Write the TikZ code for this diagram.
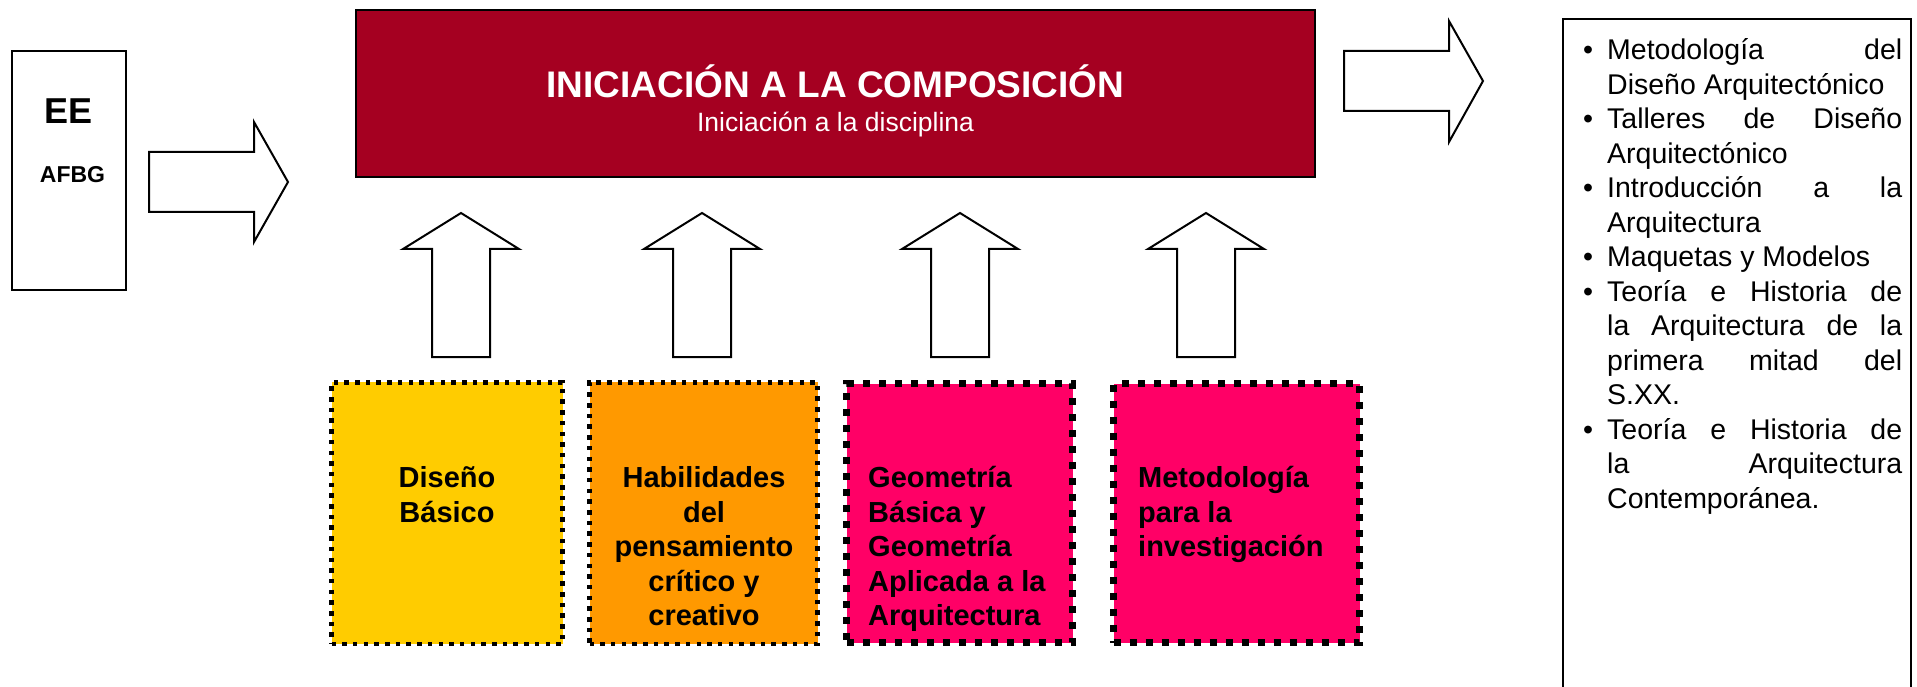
\documentclass[tikz,border=0pt]{standalone}
\usepackage{fontspec}
\setmainfont{Liberation Sans}
\definecolor{vino}{HTML}{A50021}
\definecolor{amarillo}{HTML}{FFCC00}
\definecolor{naranja}{HTML}{FF9900}
\definecolor{rosa}{HTML}{FF0066}
\newcommand{\tam}[2]{\fontsize{#1pt}{#2pt}\selectfont}
\newcommand{\vineta}{\par\noindent\llap{\textbullet\hspace{14pt}}}

\begin{document}
\begin{tikzpicture}[
        x=1pt, y=-1pt,
        caja/.style={draw=black, line width=2pt, inner sep=0pt},
        flecha/.style={draw=black, line width=2pt, fill=white, line join=miter},
        punteada/.style={draw=black, line width=4.5pt, dash pattern=on 4.5pt off 6.2pt,
            inner sep=0pt, minimum height=261.5pt},
        gruesa/.style={draw=black, line width=7pt, dash pattern=on 7pt off 9pt,
            inner sep=0pt, minimum height=259pt},
        rotulo/.style={font=\tam{29}{34.5}\bfseries, inner sep=0pt}
    ]
        \useasboundingbox (0,0) rectangle (1917,687);

        % Caja izquierda
        \node[caja, minimum width=114pt, minimum height=239pt] (izq) at (69,170.5) {};
        \node[anchor=base, inner sep=0pt, font=\tam{36}{40}\bfseries] (ee) at (68.5,124) {EE};
        \node[anchor=base, inner sep=0pt, font=\tam{23}{26}\bfseries] (afbg) at (72.5,183) {AFBG};

        % Caja principal
        \node[caja, fill=vino, minimum width=959pt, minimum height=167pt] (comp) at (835.5,93.5) {};
        \node[anchor=base, inner sep=0pt, text=white, font=\tam{37}{40}\bfseries]
            (titulo) at (835.5,98) {INICIACIÓN A LA COMPOSICIÓN};
        \node[anchor=base, inner sep=0pt, text=white, font=\tam{26.5}{30}]
            (sub) at (835.5,132) {Iniciación a la disciplina};

        % Flechas horizontales
        \draw[flecha] (149,152) -- (254,152) -- (254,122) -- (288,182)
            -- (254,242) -- (254,212) -- (149,212) -- cycle;
        \draw[flecha] (1344,51) -- (1449,51) -- (1449,21) -- (1483,81)
            -- (1449,142) -- (1449,111) -- (1344,111) -- cycle;

        % Flechas verticales
        \foreach \c in {461,702,960,1206}
            \draw[flecha] (\c-29,357) -- (\c-29,249) -- (\c-58,249) -- (\c,213)
                -- (\c+58,249) -- (\c+29,249) -- (\c+29,357) -- cycle;

        % Cajas inferiores
        \node[punteada, fill=amarillo, minimum width=231pt] (diseno) at (447,513) {};
        \node[punteada, fill=naranja, minimum width=228pt] (habil) at (703.5,513) {};
        \node[gruesa, fill=rosa, minimum width=226pt] (geom) at (959.5,513) {};
        \node[gruesa, fill=rosa, minimum width=246pt] (metod) at (1236.5,513) {};

        \node[rotulo, align=center, anchor=north] (tdiseno) at (447,466.5) {Diseño\\Básico};
        \node[rotulo, align=center, anchor=north] (thabil) at (704,466.5)
            {Habilidades\\del\\pensamiento\\crítico y\\creativo};
        \node[rotulo, align=left, anchor=north west] (tgeom) at (868,466.5)
            {Geometría\\Básica y\\Geometría\\Aplicada a la\\Arquitectura};
        \node[rotulo, align=left, anchor=north west] (tmetod) at (1138,466.5)
            {Metodología\\para la\\investigación};

        % Lista de la derecha
        \node[caja, anchor=north west, minimum width=348pt, minimum height=700pt] (marco) at (1562,18) {};
        \node[anchor=north west, inner sep=0pt, text width=327pt, align=justify,
            font=\tam{28.5}{34.5}] (lista) at (1575,25) {%
            \leftskip=32pt\parskip=0pt
            \vineta Metodología del\linebreak Diseño Arquitectónico
            \vineta Talleres de Diseño\linebreak Arquitectónico
            \vineta Introducción a la\linebreak Arquitectura
            \vineta Maquetas y Modelos
            \vineta Teoría e Historia de\linebreak la Arquitectura de la\linebreak primera mitad del\linebreak S.XX.
            \vineta Teoría e Historia de\linebreak la Arquitectura\linebreak Contemporánea.\par};

    \end{tikzpicture}
\end{document}
